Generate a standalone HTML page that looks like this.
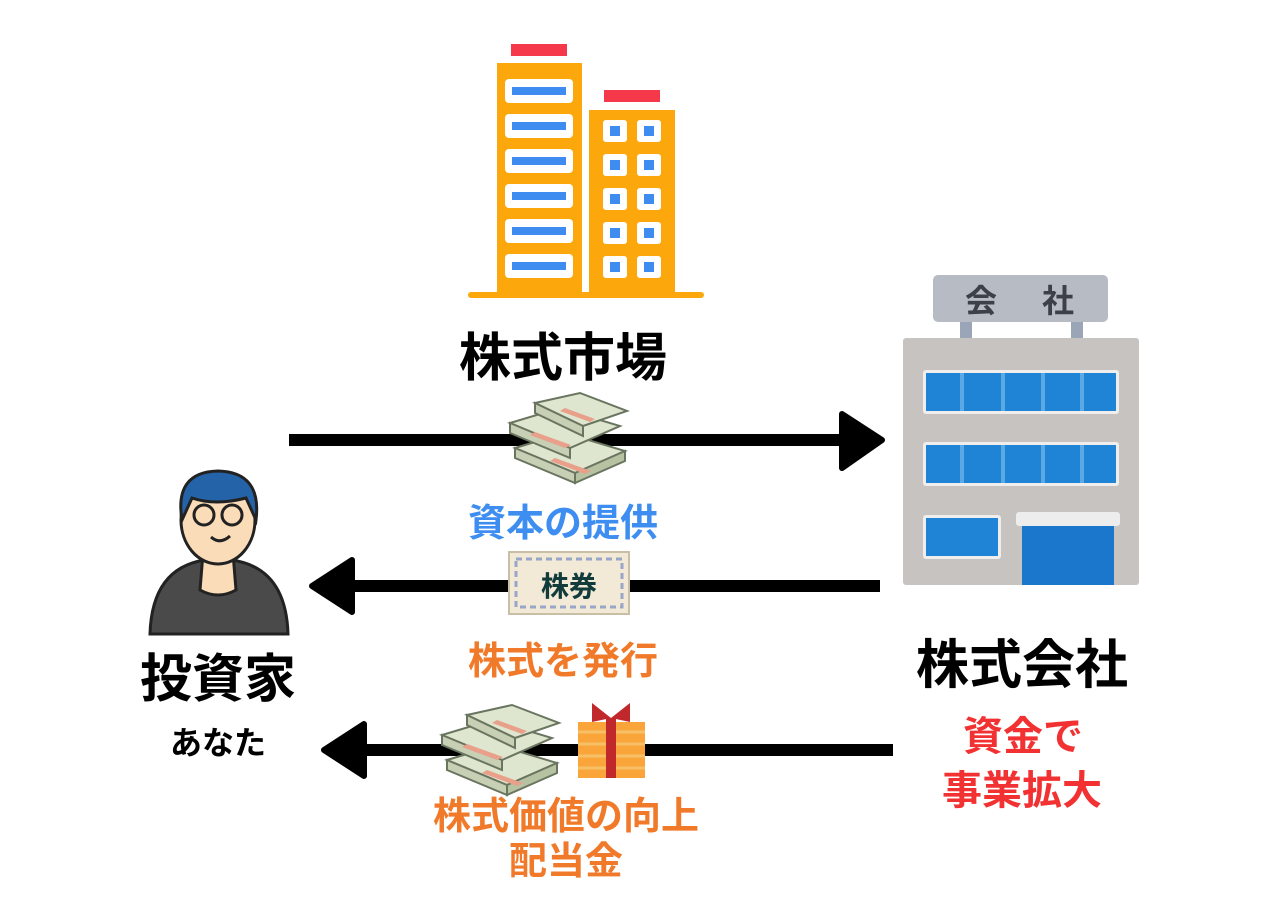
<!DOCTYPE html>
<html><head><meta charset="utf-8"><style>
html,body{margin:0;padding:0;background:#fff;width:1280px;height:904px;overflow:hidden}
svg text{font-family:"Liberation Sans","Noto Sans CJK JP",sans-serif;font-weight:bold;text-anchor:middle}
</style></head><body>
<svg width="1280" height="904" viewBox="0 0 1280 904" xmlns="http://www.w3.org/2000/svg">
<rect x="511" y="44" width="56" height="12" fill="#f5384a"/>
<rect x="497" y="63" width="85" height="232" fill="#fca80d"/>
<g fill="#fff"><rect x="505" y="79" width="68" height="24" rx="4"/><rect x="505" y="114" width="68" height="24" rx="4"/><rect x="505" y="149" width="68" height="24" rx="4"/><rect x="505" y="184" width="68" height="24" rx="4"/><rect x="505" y="219" width="68" height="24" rx="4"/><rect x="505" y="254" width="68" height="24" rx="4"/></g>
<g fill="#3f8cf0"><rect x="512" y="87" width="54" height="8"/><rect x="512" y="122" width="54" height="8"/><rect x="512" y="157" width="54" height="8"/><rect x="512" y="192" width="54" height="8"/><rect x="512" y="227" width="54" height="8"/><rect x="512" y="262" width="54" height="8"/></g>
<rect x="604" y="90" width="56" height="12" fill="#f5384a"/>
<rect x="589" y="110" width="86" height="185" fill="#fca80d"/>
<g fill="#fff">
<rect x="603" y="120" width="24" height="22" rx="3"/><rect x="637" y="120" width="24" height="22" rx="3"/>
<rect x="603" y="154" width="24" height="22" rx="3"/><rect x="637" y="154" width="24" height="22" rx="3"/>
<rect x="603" y="188" width="24" height="22" rx="3"/><rect x="637" y="188" width="24" height="22" rx="3"/>
<rect x="603" y="222" width="24" height="22" rx="3"/><rect x="637" y="222" width="24" height="22" rx="3"/>
<rect x="603" y="256" width="24" height="22" rx="3"/><rect x="637" y="256" width="24" height="22" rx="3"/></g>
<g fill="#3f8cf0">
<rect x="610" y="126" width="10" height="10"/><rect x="644" y="126" width="10" height="10"/>
<rect x="610" y="160" width="10" height="10"/><rect x="644" y="160" width="10" height="10"/>
<rect x="610" y="194" width="10" height="10"/><rect x="644" y="194" width="10" height="10"/>
<rect x="610" y="228" width="10" height="10"/><rect x="644" y="228" width="10" height="10"/>
<rect x="610" y="262" width="10" height="10"/><rect x="644" y="262" width="10" height="10"/></g>
<rect x="468" y="292" width="236" height="6" rx="3" fill="#fca80d"/>
<text x="563" y="376" font-size="52">株式市場</text>

<rect x="289" y="434" width="560" height="12" fill="#000"/>
<polygon points="842,414 882,440 842,468" fill="#000" stroke="#000" stroke-width="6" stroke-linejoin="round"/>
<rect x="345" y="580" width="535" height="12" fill="#000"/>
<polygon points="352,560 312,586 352,612" fill="#000" stroke="#000" stroke-width="6" stroke-linejoin="round"/>
<rect x="358" y="744" width="535" height="12" fill="#000"/>
<polygon points="364,724 324,750 364,776" fill="#000" stroke="#000" stroke-width="6" stroke-linejoin="round"/>

<g id="m">
<g transform="translate(505,393)">
<polygon points="10,55 60,40 120,58 70,80" fill="#dfe6cf" stroke="#6a7560" stroke-width="2"/>
<polygon points="10,55 70,80 70,90 10,65" fill="#c7d0b5" stroke="#6a7560" stroke-width="2"/>
<polygon points="70,80 120,58 120,68 70,90" fill="#b7c2a2" stroke="#6a7560" stroke-width="2"/>
<polygon points="5,30 55,15 115,33 65,55" fill="#dfe6cf" stroke="#6a7560" stroke-width="2"/>
<polygon points="5,30 65,55 65,65 5,40" fill="#c7d0b5" stroke="#6a7560" stroke-width="2"/>
<polygon points="30,10 75,0 122,18 78,33" fill="#dfe6cf" stroke="#6a7560" stroke-width="2"/>
<polygon points="30,10 78,33 78,43 30,20" fill="#c7d0b5" stroke="#6a7560" stroke-width="2"/>
<polygon points="25,42 60,55 66,52 30,39" fill="#e8a08a"/>
<polygon points="45,68 80,81 86,78 50,65" fill="#e8a08a"/>
<polygon points="55,18 85,29 90,26 60,15" fill="#e8a08a"/>
</g></g>
<text x="563" y="536" font-size="38" fill="#3d8ef0">資本の提供</text>

<rect x="509" y="552" width="120" height="62" fill="#f2ead6" stroke="#c9bfa5" stroke-width="2"/>
<rect x="516" y="559" width="106" height="48" fill="none" stroke="#9aa6c8" stroke-width="3" stroke-dasharray="6 4"/>
<text x="569" y="596" font-size="28" fill="#123c3c">株券</text>
<text x="563" y="674" font-size="38" fill="#f07a2a">株式を発行</text>

<use href="#m" transform="translate(-68,312)"/>
<rect x="578" y="722" width="67" height="56" fill="#f9a53a"/>
<g stroke="#f7c067" stroke-width="3"><line x1="578" y1="732" x2="645" y2="732"/><line x1="578" y1="744" x2="645" y2="744"/><line x1="578" y1="756" x2="645" y2="756"/><line x1="578" y1="768" x2="645" y2="768"/></g>
<rect x="606" y="718" width="10" height="60" fill="#c0282c"/>
<path d="M611,718 L592,703 L592,722 Z M611,718 L630,703 L630,722 Z" fill="#c0282c"/>
<text x="566" y="829" font-size="38" fill="#f07a2a">株式価値の向上</text>
<text x="566" y="874" font-size="38" fill="#f07a2a">配当金</text>

<rect x="933" y="275" width="175" height="47" rx="5" fill="#b7bcc4"/>
<text x="981" y="312" font-size="32" fill="#3d4046">会</text>
<text x="1058" y="312" font-size="32" fill="#3d4046">社</text>
<rect x="960" y="322" width="12" height="18" fill="#9aa6b8"/><rect x="1071" y="322" width="12" height="18" fill="#9aa6b8"/>
<rect x="903" y="338" width="236" height="247" rx="3" fill="#c6c3c1"/>
<rect x="923" y="370" width="196" height="44" rx="3" fill="#f0eeec"/>
<rect x="926" y="373" width="190" height="38" fill="#1f83d6"/>
<rect x="923" y="442" width="196" height="44" rx="3" fill="#f0eeec"/>
<rect x="926" y="445" width="190" height="38" fill="#1f83d6"/>
<g stroke="#5aa9e4" stroke-width="4"><line x1="962" y1="373" x2="962" y2="411"/><line x1="1003" y1="373" x2="1003" y2="411"/><line x1="1043" y1="373" x2="1043" y2="411"/><line x1="1082" y1="373" x2="1082" y2="411"/>
<line x1="962" y1="445" x2="962" y2="483"/><line x1="1003" y1="445" x2="1003" y2="483"/><line x1="1043" y1="445" x2="1043" y2="483"/><line x1="1082" y1="445" x2="1082" y2="483"/>
<line x1="965" y1="518" x2="965" y2="555"/><line x1="1066" y1="528" x2="1066" y2="585"/></g>
<rect x="923" y="515" width="78" height="44" rx="3" fill="#f0eeec"/>
<rect x="926" y="518" width="72" height="38" fill="#1f83d6"/>
<rect x="1016" y="512" width="104" height="14" rx="3" fill="#ededed"/>
<rect x="1022" y="526" width="92" height="59" fill="#1a77cc"/>
<text x="1022" y="683" font-size="53" fill="#000">株式会社</text>
<text x="1023" y="750" font-size="40" fill="#f23232">資金で</text>
<text x="1022" y="804" font-size="40" fill="#f23232">事業拡大</text>

<path d="M150,634 Q152,568 205,560 L232,560 Q286,568 288,634 Z" fill="#4a4a4a" stroke="#222" stroke-width="3"/>
<path d="M203,553 L200,590 Q218,600 236,590 L233,553 Z" fill="#fbdcb8" stroke="#222" stroke-width="3"/>
<ellipse cx="218" cy="520" rx="37" ry="44" fill="#fbdcb8" stroke="#222" stroke-width="3"/>
<path d="M182,520 Q174,472 218,471 Q262,472 256,520 L246,498 Q215,506 192,498 Z" fill="#2563a8" stroke="#222" stroke-width="3"/>
<circle cx="204" cy="515" r="10" fill="none" stroke="#222" stroke-width="3"/>
<circle cx="232" cy="515" r="10" fill="none" stroke="#222" stroke-width="3"/>
<path d="M211,537 Q220,545 230,536" fill="none" stroke="#222" stroke-width="3"/>
<text x="218" y="697" font-size="52" fill="#000">投資家</text>
<text x="218" y="754" font-size="32" fill="#000">あなた</text>
</svg>
</body></html>
